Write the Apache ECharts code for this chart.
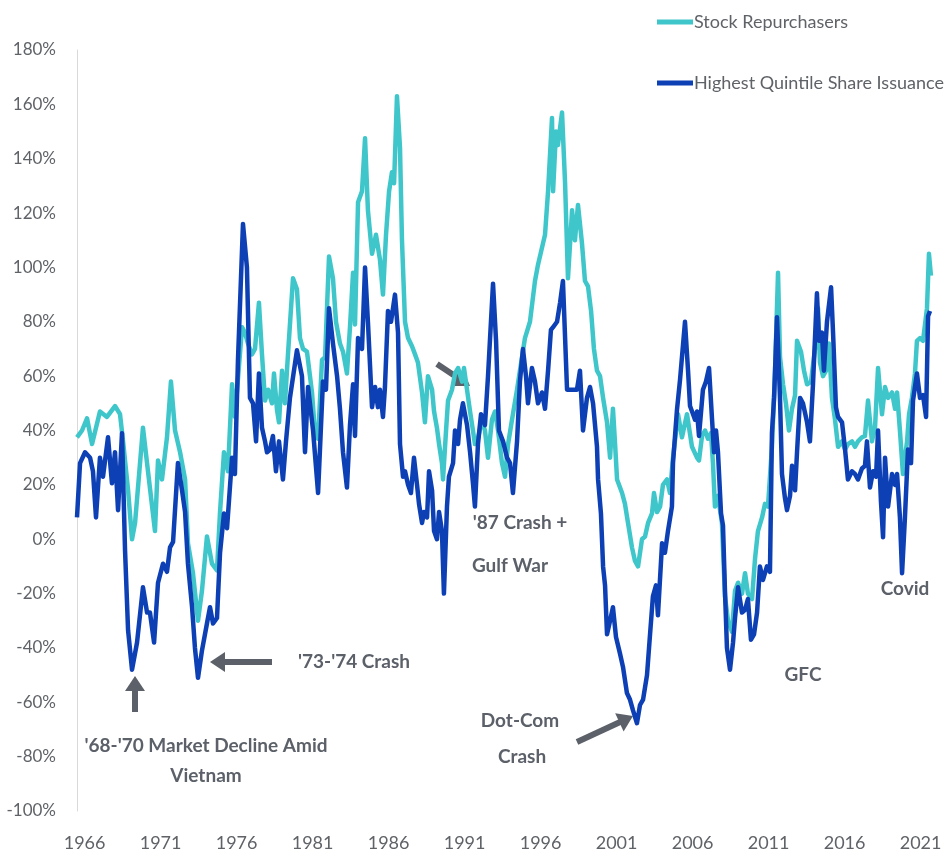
<!DOCTYPE html>
<html>
<head>
    <meta charset="utf-8">
    <title>Repurchasers vs Issuers</title>
    <script src="https://cdn.jsdelivr.net/npm/echarts@6/dist/echarts.min.js"></script>
    <style>
        body { margin: 0; background: #fff; }
    </style>
</head>
<body>
    <div id="main" style="width: 946px;height:860px;"></div>
    <script>
        // [year, % return]
        var repurchasers = [
            [1965.50,37.5],[1965.83,40],[1966.16,44.5],[1966.49,35],[1966.75,41],[1967.01,47],[1967.47,45],[1968.00,49],[1968.33,46],[1968.53,36],[1968.86,18],[1969.12,0],[1969.32,6],[1969.84,41],[1970.17,25],[1970.63,3],[1970.83,29],[1971.09,22],[1971.42,37.5],[1971.68,58],[1971.95,40],[1972.28,32],[1972.61,22],[1972.80,-1.5],[1973.13,-12.5],[1973.46,-30],[1973.72,-19],[1974.05,1],[1974.38,-9],[1974.71,-11.5],[1974.91,10],
            [1975.17,32],[1975.43,25],[1975.70,57],[1975.89,45],[1976.36,78],[1976.55,76],[1976.75,72],[1977.01,68],[1977.21,70],[1977.47,87],[1977.67,68],[1977.87,51],[1978.07,55],[1978.33,50],[1978.46,61],[1978.66,47.5],[1978.79,43],[1978.99,62],[1979.18,50],[1979.38,68],[1979.71,96],[1979.97,92],[1980.17,74],[1980.37,70],[1980.63,69],[1980.96,54],[1981.16,39],[1981.36,37],[1981.62,66],[1981.82,67],[1982.08,104],[1982.34,96],[1982.54,80],[1982.80,72],[1983.00,69],[1983.26,61],[1983.46,78],[1983.66,98],[1983.79,79],[1983.99,124],[1984.25,128],[1984.45,147.5],[1984.64,121],[1984.91,105],
            [1985.17,112],[1985.43,103],[1985.63,90],[1985.83,112],[1986.03,128],[1986.22,135],[1986.36,131],[1986.55,163],[1986.75,144],[1986.88,110],[1987.08,80],[1987.28,74],[1987.54,71],[1987.74,68],[1987.93,65],[1988.20,54],[1988.39,43],[1988.59,60],[1988.86,55],[1988.99,47],[1989.18,41],[1989.32,35],[1989.51,28],[1989.58,22],[1989.78,40],[1989.91,51],[1990.17,55],[1990.37,61],[1990.57,63],[1990.83,58],[1990.96,63],[1991.16,55],[1991.36,47],[1991.55,40],[1991.68,35],[1991.88,37],[1992.14,44],[1992.34,40],[1992.54,30],[1992.80,44],[1993.00,47],[1993.20,40],[1993.46,28],[1993.66,23],[1993.86,35],[1994.12,44],[1994.45,55],[1994.64,62],[1994.97,74],
            [1995.30,80],[1995.63,95],[1995.83,101],[1996.29,112],[1996.49,128],[1996.75,155],[1996.82,128],[1997.01,150],[1997.14,145],[1997.41,157],[1997.61,131],[1997.80,96],[1998.07,121],[1998.26,110],[1998.46,123],[1998.72,109],[1998.92,95],[1999.12,93],[1999.32,84],[1999.51,70],[1999.71,62],[1999.91,60],[2000.11,52],[2000.37,43],[2000.57,30],[2000.76,48],[2000.89,36],[2001.03,22],[2001.36,17],[2001.55,13],[2001.75,6],[2002.01,-3],[2002.21,-8],[2002.41,-10],[2002.67,0],[2002.87,1],[2003.07,6],[2003.33,9.5],[2003.46,17],[2003.66,10],[2003.86,12],[2004.05,20],[2004.32,22],[2004.51,17],[2004.71,30],
            [2005.04,46],[2005.30,37.5],[2005.63,46],[2005.96,34],[2006.29,30],[2006.42,29],[2006.62,38],[2006.82,40],[2007.01,37],[2007.21,39],[2007.34,28],[2007.47,12],[2007.67,16],[2007.93,6],[2008.13,-21],[2008.33,-30],[2008.59,-34],[2008.79,-19],[2008.99,-16],[2009.25,-20],[2009.45,-12.5],[2009.64,-20],[2009.91,-22],[2010.11,-7],[2010.30,3],[2010.57,8],[2010.76,13],[2010.96,12],[2011.22,34],[2011.42,61],[2011.62,98],[2011.75,67],[2011.95,57],[2012.14,50],[2012.34,40],[2012.54,48],[2012.74,53],[2012.87,73],[2013.13,69],[2013.33,62],[2013.53,57],[2013.79,58],[2014.05,70],[2014.25,85],[2014.38,65],[2014.58,60],[2014.78,62],[2014.97,72],
            [2015.17,52],[2015.37,44],[2015.57,34],[2015.83,36],[2016.03,33],[2016.22,35],[2016.49,36],[2016.68,34],[2016.88,36],[2017.14,37.5],[2017.34,38],[2017.54,51],[2017.80,36],[2018.00,41],[2018.20,63],[2018.46,46],[2018.66,56],[2018.86,52],[2019.12,54],[2019.32,48],[2019.45,54],[2019.64,40],[2019.84,24],[2020.11,36],[2020.24,46],[2020.43,52],[2020.63,61],[2020.76,73],[2020.96,74],[2021.16,73],[2021.42,85],[2021.55,105],[2021.68,97]
        ];

        var issuers = [
            [1965.50,8],[1965.70,28],[1966.03,32],[1966.36,30],[1966.55,25],[1966.75,8],[1967.01,30],[1967.21,23],[1967.54,37.5],[1967.80,20.6],[1968.00,32],[1968.20,10.7],[1968.46,39],[1968.66,-4],[1968.86,-33.5],[1969.12,-48],[1969.45,-38],[1969.84,-17.7],[1970.11,-27],[1970.30,-27],[1970.57,-38],[1970.83,-16],[1971.16,-9],[1971.42,-12],[1971.62,-3],[1971.82,-1],[1972.14,28],[1972.41,18],[1972.61,10],[1972.80,-9],[1973.07,-25],[1973.26,-40],[1973.46,-51],[1973.72,-41],[1974.05,-31],[1974.25,-25],[1974.45,-31],[1974.71,-29],[1974.91,-5],
            [1975.17,9.5],[1975.37,4],[1975.70,30],[1975.89,24],[1976.09,66],[1976.42,116],[1976.68,100],[1976.88,52],[1977.08,50],[1977.28,36],[1977.47,61],[1977.67,41],[1977.87,36],[1978.00,32],[1978.20,33],[1978.39,38],[1978.59,25],[1978.79,36],[1979.05,22],[1979.25,36],[1979.51,52],[1979.97,69.5],[1980.30,60],[1980.50,32],[1980.70,56],[1981.03,40],[1981.36,17],[1981.68,58],[1981.88,55],[1982.08,85],[1982.34,72],[1982.61,60],[1982.80,48],[1983.00,32],[1983.26,19],[1983.46,42],[1983.66,57],[1983.79,38],[1983.99,74],[1984.25,70],[1984.45,100],[1984.64,80],[1984.91,48.6],
            [1985.11,56],[1985.30,48.6],[1985.43,55],[1985.63,45],[1985.76,56],[1985.96,84],[1986.16,80],[1986.42,90],[1986.62,76],[1986.75,35],[1986.95,23],[1987.08,25],[1987.28,20],[1987.47,17],[1987.67,30],[1987.87,20],[1988.00,13],[1988.20,6],[1988.33,10],[1988.53,8],[1988.66,25],[1988.86,18],[1988.99,3],[1989.18,0],[1989.32,10],[1989.51,3],[1989.64,-20],[1989.84,12],[1989.97,23],[1990.24,28],[1990.37,40],[1990.57,35],[1990.70,44],[1990.89,50],[1991.16,42],[1991.36,32],[1991.55,20.6],[1991.68,12],[1991.88,35],[1992.08,46],[1992.34,42],[1992.54,60],[1992.87,94],[1993.07,73],[1993.26,40],[1993.53,36],[1993.79,30],[1993.99,28],[1994.18,17],[1994.45,36],[1994.64,58],[1994.84,70],
            [1995.04,60],[1995.17,50],[1995.43,63],[1995.63,58],[1995.83,50],[1996.09,54],[1996.29,48],[1996.49,62],[1996.68,77],[1996.82,78],[1997.08,80],[1997.28,87],[1997.47,95],[1997.74,55],[1998.13,55],[1998.39,55],[1998.59,62],[1998.79,40],[1999.05,52],[1999.25,56],[1999.45,50],[1999.71,34],[1999.78,22],[1999.97,9.5],[2000.11,-10],[2000.24,-17],[2000.37,-35],[2000.57,-30],[2000.76,-25],[2000.96,-36],[2001.22,-42],[2001.42,-47],[2001.68,-56.6],[2001.88,-59],[2002.08,-63],[2002.34,-67.7],[2002.54,-61],[2002.74,-59],[2003.00,-50],[2003.20,-35],[2003.39,-21],[2003.59,-17],[2003.72,-28],[2003.99,-1.5],[2004.18,-5],[2004.38,3],[2004.64,12],[2004.71,28],[2004.97,47.5],
            [2005.17,58.5],[2005.50,80],[2005.70,62],[2005.83,49],[2006.03,46],[2006.16,44],[2006.29,47],[2006.42,38],[2006.68,55],[2006.88,58],[2007.08,63],[2007.28,44],[2007.41,32],[2007.54,40],[2007.67,32],[2007.87,9.5],[2008.00,5],[2008.13,-19],[2008.26,-40],[2008.46,-48],[2008.66,-38],[2008.79,-29],[2008.99,-17.7],[2009.25,-27],[2009.45,-26],[2009.64,-22],[2009.84,-37],[2010.04,-35],[2010.24,-27],[2010.43,-10],[2010.63,-15],[2010.89,-10],[2011.09,-12],[2011.22,39],[2011.36,52],[2011.55,81.7],[2011.75,52],[2011.88,24],[2012.08,15],[2012.21,10.7],[2012.41,16],[2012.54,27],[2012.74,18],[2012.87,32],[2013.07,52],[2013.26,50],[2013.53,43],[2013.72,36],[2013.92,57],[2014.18,90.5],[2014.32,73],[2014.51,76],[2014.64,62],[2014.84,80],
            [2015.11,92.7],[2015.24,76],[2015.43,48.6],[2015.57,45],[2015.83,43],[2016.03,33],[2016.22,22],[2016.49,25],[2016.68,24],[2016.88,22],[2017.14,26],[2017.34,27],[2017.47,36],[2017.67,19],[2017.87,25],[2018.07,23],[2018.20,40],[2018.39,14],[2018.53,0.7],[2018.66,30],[2018.86,12],[2019.12,24],[2019.32,20],[2019.45,24],[2019.64,8],[2019.78,-12.5],[2019.97,8],[2020.17,33],[2020.37,28],[2020.50,51],[2020.76,61],[2020.96,52],[2021.16,53],[2021.36,45],[2021.49,82],[2021.62,84]
        ];

        var yearTicks = [1966, 1971, 1976, 1981, 1986, 1991, 1996, 2001, 2006, 2011, 2016, 2021];

        var annoColor = '#5b6069';
        var annoFont = 'bold 19px Lato, sans-serif';

        function label(text, x, y) {
            return {
                type: 'text',
                style: {
                    text: text, x: x, y: y,
                    textAlign: 'center', textVerticalAlign: 'middle',
                    align: 'center', verticalAlign: 'middle',
                    font: annoFont, fill: annoColor
                }
            };
        }

        function arrow(x1, y1, x2, y2) {
            var dx = x2 - x1, dy = y2 - y1;
            var len = Math.sqrt(dx * dx + dy * dy);
            var ux = dx / len, uy = dy / len;
            var px = -uy, py = ux;
            var hl = 15, hw = 10;
            var bx = x2 - ux * hl, by = y2 - uy * hl;
            return [{
                type: 'line',
                shape: { x1: x1, y1: y1, x2: bx + ux * 2, y2: by + uy * 2 },
                style: { stroke: annoColor, lineWidth: 6 }
            }, {
                type: 'polygon',
                shape: { points: [[x2, y2], [bx + px * hw, by + py * hw], [bx - px * hw, by - py * hw]] },
                style: { fill: annoColor }
            }];
        }

        var graphics = [
            label("'68-'70 Market Decline Amid", 206, 746),
            label('Vietnam', 206, 776),
            label("'73-'74 Crash", 354, 662),
            label("'87 Crash +", 520, 523),
            label('Gulf War', 510, 566),
            label('Dot-Com', 520, 721),
            label('Crash', 522, 757),
            label('GFC', 803, 675),
            label('Covid', 905, 589)
        ].concat(arrow(135, 712, 135, 676))
         .concat(arrow(272, 662, 210, 662))
         .concat(arrow(437, 364, 470, 386))
         .concat(arrow(577, 742, 633, 716));

        var myChart = echarts.init(document.getElementById('main'));

        var option = {
            animation: false,
            backgroundColor: '#fff',
            textStyle: { fontFamily: 'Lato, sans-serif' },
            legend: {
                orient: 'vertical',
                left: 652,
                top: 8,
                itemGap: 43,
                itemWidth: 36,
                itemHeight: 5,
                icon: 'rect',
                textStyle: { fontSize: 18, color: '#5f6368', padding: [0, 0, 0, -4] },
                data: ['Stock Repurchasers', 'Highest Quintile Share Issuance']
            },
            grid: { left: 77, right: 14, top: 50, bottom: 49, containLabel: false },
            xAxis: {
                type: 'value',
                min: 1965.5,
                max: 2021.75,
                axisLine: { show: false },
                axisTick: { show: false },
                splitLine: { show: false },
                axisLabel: {
                    customValues: yearTicks,
                    margin: 23,
                    fontSize: 18,
                    color: '#5f6368',
                    formatter: function (v) { return String(v); }
                }
            },
            yAxis: {
                type: 'value',
                min: -100,
                max: 180,
                interval: 20,
                axisLine: { show: true, lineStyle: { color: '#d9d9d9', width: 1 } },
                axisTick: { show: false },
                splitLine: { show: false },
                axisLabel: { formatter: '{value}%', margin: 21, fontSize: 17, color: '#5f6368' }
            },
            series: [{
                name: 'Stock Repurchasers',
                type: 'line',
                data: repurchasers,
                showSymbol: false,
                color: '#3fc6ca',
                lineStyle: { width: 4.5, color: '#3fc6ca', join: 'round' }
            }, {
                name: 'Highest Quintile Share Issuance',
                type: 'line',
                data: issuers,
                showSymbol: false,
                color: '#0d3fb5',
                lineStyle: { width: 4.5, color: '#0d3fb5', join: 'round' }
            }],
            graphic: graphics
        };

        myChart.setOption(option);
    </script>
</body>
</html>
